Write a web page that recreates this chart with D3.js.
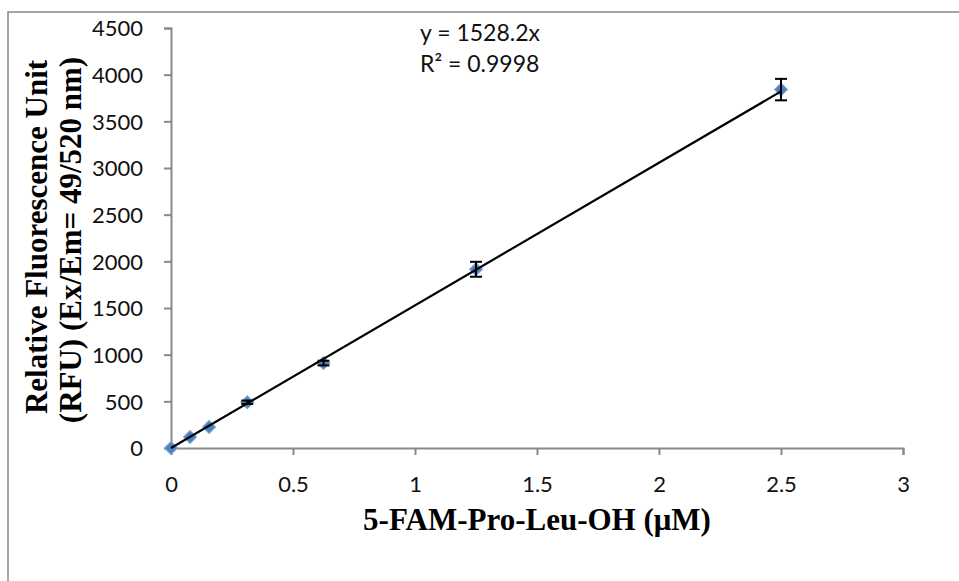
<!DOCTYPE html>
<html><head><meta charset="utf-8">
<script src="https://cdn.jsdelivr.net/npm/d3@7"></script>
<style>body{margin:0;background:#fff}svg{display:block}</style>
</head><body>
<svg id="c" width="959" height="581"></svg>
<script>
const concentrations = [0, 0.078, 0.156, 0.3125, 0.625, 1.25, 2.5];
const rfu = [0, 118, 225, 490, 910, 1915, 3840];
const errors = [5, 10, 12, 18, 25, 80, 115];
const slope = 1528.2;
const xTicks = [0, 0.5, 1, 1.5, 2, 2.5, 3];
const yTicks = [0, 500, 1000, 1500, 2000, 2500, 3000, 3500, 4000, 4500];
const eqLine1 = "y = 1528.2x";
const eqLine2 = "R² = 0.9998";
const xTitle = "5-FAM-Pro-Leu-OH (μM)";
const yTitle1 = "Relative Fluorescence Unit";
const yTitle2 = "(RFU) (Ex/Em= 49/520 nm)";

const svg = d3.select("#c");
const axisColor = "#898989";
const tickFont = "Lato, 'Open Sans', sans-serif";
const titleFont = "'Liberation Serif', 'Times New Roman', serif";

// outer frame
svg.append("rect").attr("x", 8).attr("y", 12).attr("width", 1000).attr("height", 700)
  .attr("fill", "none").attr("stroke", axisColor).attr("stroke-width", 1.5);

const x = d3.scaleLinear().domain([0, 3]).range([171, 903]);
const y = d3.scaleLinear().domain([0, 4500]).range([448, 28]);

// axes
const gx = svg.append("g").attr("transform", `translate(0,${y(0)})`)
  .call(d3.axisBottom(x).tickValues(xTicks).tickSize(7).tickPadding(17).tickFormat(d3.format("")));
const gy = svg.append("g").attr("transform", `translate(${x(0)},0)`)
  .call(d3.axisLeft(y).tickValues(yTicks).tickSize(7).tickPadding(21).tickFormat(d3.format("")));
[gx, gy].forEach(g => {
  g.select(".domain").attr("stroke", axisColor).attr("stroke-width", 2);
  g.selectAll(".tick line").attr("stroke", axisColor).attr("stroke-width", 2);
  g.selectAll(".tick text").attr("fill", "#111").style("font-family", tickFont).style("font-size", "22px");
});
gx.selectAll(".tick text").attr("dy", "0.9em");
gy.selectAll(".tick text").attr("dy", "0.36em");

// markers
const pts = concentrations.map((c, i) => ({c, v: rfu[i], e: errors[i]}));
svg.append("g").selectAll("path").data(pts).join("path")
  .attr("d", d3.symbol(d3.symbolSquare, 85)())
  .attr("transform", d => `translate(${x(d.c)},${y(d.v)}) rotate(45)`)
  .attr("fill", "#4F81BD").attr("stroke", "#7fa6d6").attr("stroke-width", 1);

// regression line
svg.append("line")
  .attr("x1", x(0)).attr("y1", y(0))
  .attr("x2", x(2.5)).attr("y2", y(slope * 2.5))
  .attr("stroke", "#000").attr("stroke-width", 2.2);

// error bars
const eb = svg.append("g").attr("stroke", "#000").attr("stroke-width", 2);
pts.filter(d => d.e > 15).forEach(d => {
  const cx = x(d.c);
  eb.append("line").attr("x1", cx).attr("x2", cx).attr("y1", y(d.v - d.e)).attr("y2", y(d.v + d.e));
  [d.v - d.e, d.v + d.e].forEach(v => eb.append("line").attr("x1", cx - 6).attr("x2", cx + 6).attr("y1", y(v)).attr("y2", y(v)));
});

// equation
svg.append("text").attr("x", 420).attr("y", 41).text(eqLine1)
  .style("font-family", tickFont).style("font-size", "23px").attr("fill", "#111");
svg.append("text").attr("x", 420).attr("y", 72).text(eqLine2)
  .style("font-family", tickFont).style("font-size", "23px").attr("fill", "#111");

// axis titles
svg.append("text").attr("x", 537).attr("y", 530).attr("text-anchor", "middle").text(xTitle)
  .style("font-family", titleFont).style("font-weight", "bold").style("font-size", "31px");
svg.append("text").attr("transform", "translate(47,237) rotate(-90)").attr("text-anchor", "middle").text(yTitle1)
  .style("font-family", titleFont).style("font-weight", "bold").style("font-size", "31px");
svg.append("text").attr("transform", "translate(81,240) rotate(-90)").attr("text-anchor", "middle").text(yTitle2)
  .style("font-family", titleFont).style("font-weight", "bold").style("font-size", "31px");
</script>
</body></html>
